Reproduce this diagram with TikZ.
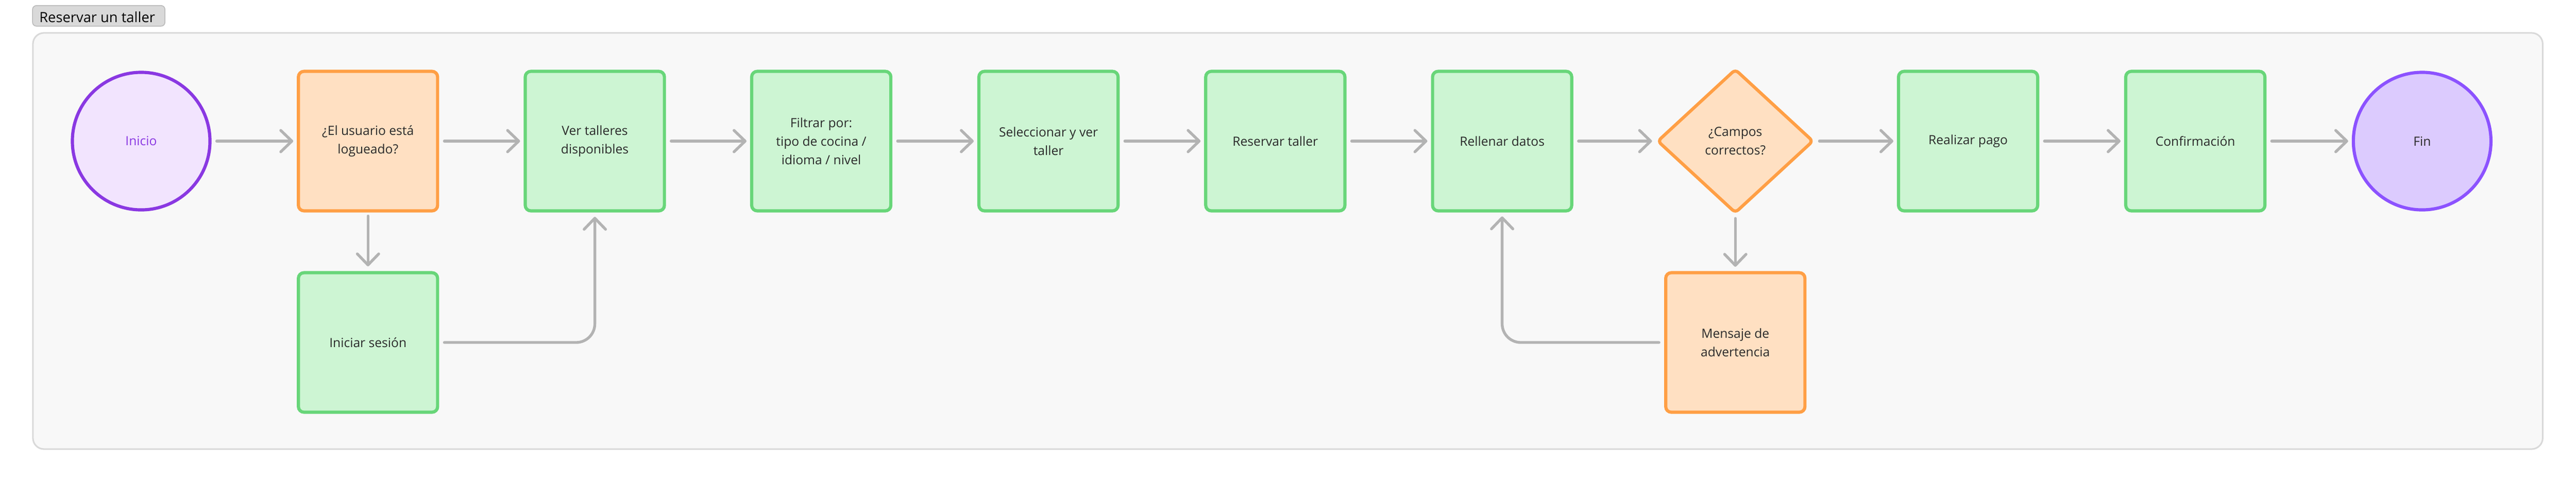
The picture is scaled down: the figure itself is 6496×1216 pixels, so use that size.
\documentclass[tikz,border=0pt]{standalone}
\usepackage{fontspec}
\setmainfont{Open Sans}
\usetikzlibrary{arrows.meta,shapes.geometric}
\definecolor{grdraw}{HTML}{68D679}
\definecolor{grfill}{HTML}{CDF5D3}
\definecolor{ordraw}{HTML}{FF9F45}
\definecolor{orfill}{HTML}{FFE0C2}
\definecolor{inidraw}{HTML}{8A38E2}
\definecolor{inifill}{HTML}{F2E4FE}
\definecolor{findraw}{HTML}{8C52FF}
\definecolor{finfill}{HTML}{DCCBFE}
\definecolor{txt}{HTML}{2A2A2A}
\definecolor{arrgray}{HTML}{B3B3B3}
\definecolor{panelfill}{HTML}{F8F8F8}
\definecolor{paneldraw}{HTML}{D9D9D9}
\definecolor{tabfill}{HTML}{D9D9D9}
\definecolor{tabdraw}{HTML}{B8B8B8}
\begin{document}
\begin{tikzpicture}[x=1pt,y=-1pt,
  lbl/.style={font=\fontsize{32}{47}\selectfont, text=txt, align=center, inner sep=0pt},
  boxbase/.style={lbl, rectangle, line width=8pt, rounded corners=14pt, minimum width=351pt, minimum height=352pt},
  grbox/.style={boxbase, draw=grdraw, fill=grfill},
  orbox/.style={boxbase, draw=ordraw, fill=orfill},
  ordia/.style={lbl, diamond, line width=8pt, rounded corners=10pt, draw=ordraw, fill=orfill, minimum width=394pt, minimum height=364pt},
  termc/.style={lbl, circle, line width=8pt, minimum size=347pt},
  arr/.style={draw=arrgray, line width=7pt, line cap=round, line join=round, -{Straight Barb[length=28pt, width=54pt, round]}}
]
\useasboundingbox (0,0) rectangle (6496,1216);
\fill[white] (0,0) rectangle (6496,1216);
% title tab
\node[draw=tabdraw, fill=tabfill, line width=2pt, rounded corners=10pt, minimum width=334pt, minimum height=52pt, inner sep=0pt] (tab) at (249,40) {};
\node[anchor=base west, inner sep=0pt, font=\fontsize{35.5}{40}\selectfont, text=black] (tabtxt) at (99,56) {Reservar un taller};
% panel
\node[draw=paneldraw, fill=panelfill, line width=4pt, rounded corners=28pt, minimum width=6329pt, minimum height=1050pt, inner sep=0pt] (panel) at (3247.5,608) {};
% nodes
\node[termc, draw=inidraw, fill=inifill, text=inidraw] (inicio) at (356,356) {Inicio};
\node[orbox] (usr) at (928,356) {¿El usuario está\\logueado?};
\node[grbox] (ver) at (1500,356) {Ver talleres\\disponibles};
\node[grbox] (fil) at (2071,356) {Filtrar por:\\tipo de cocina /\\idioma / nivel};
\node[grbox] (sel) at (2644,356) {Seleccionar y ver\\taller};
\node[grbox] (res) at (3216,356) {Reservar taller};
\node[grbox] (rel) at (3788,356) {Rellenar datos};
\node[ordia] (cam) at (4376,356) {¿Campos\\correctos?};
\node[grbox] (pag) at (4963,356) {Realizar pago};
\node[grbox] (con) at (5536,356) {Confirmación};
\node[termc, draw=findraw, fill=finfill] (fin) at (6108,356) {Fin};
\node[grbox] (ses) at (928,864) {Iniciar sesión};
\node[orbox] (men) at (4376,864) {Mensaje de\\advertencia};
% connectors
\draw[arr, shorten <=13pt, shorten >=9pt] (inicio) -- (usr);
\draw[arr, shorten <=13pt, shorten >=9pt] (usr) -- (ver);
\draw[arr, shorten <=13pt, shorten >=9pt] (ver) -- (fil);
\draw[arr, shorten <=13pt, shorten >=9pt] (fil) -- (sel);
\draw[arr, shorten <=13pt, shorten >=9pt] (sel) -- (res);
\draw[arr, shorten <=13pt, shorten >=9pt] (res) -- (rel);
\draw[arr, shorten <=13pt, shorten >=9pt] (rel) -- (cam);
\draw[arr, shorten <=11pt, shorten >=9pt] (cam) -- (pag);
\draw[arr, shorten <=13pt, shorten >=9pt] (pag) -- (con);
\draw[arr, shorten <=13pt, shorten >=9pt] (con) -- (fin);
\draw[arr, shorten <=9pt, shorten >=12pt] (usr) -- (ses);
\draw[arr, shorten <=9pt, shorten >=11pt] (cam) -- (men);
\draw[arr, rounded corners=47pt, shorten <=13pt, shorten >=11pt] (ses.east) -| (ver.south);
\draw[arr, rounded corners=47pt, shorten <=13pt, shorten >=10pt] (men.west) -| (rel.south);
\end{tikzpicture}
\end{document}
